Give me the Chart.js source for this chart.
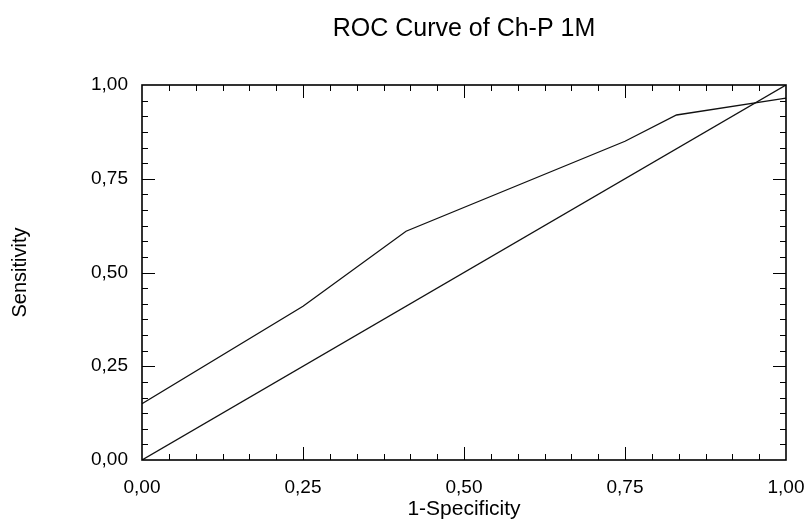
<!DOCTYPE html>
<html>
<head>
<meta charset="utf-8">
<script src="https://cdn.jsdelivr.net/npm/chart.js@4/dist/chart.umd.min.js"></script>
<style>
  html, body { margin: 0; padding: 0; background: #fff; }
  #wrap { width: 810px; height: 530px; }
</style>
</head>
<body>
<div id="wrap"><canvas id="roc" width="810" height="530"></canvas></div>
<script>
// values
const rocX = [0, 0.25, 0.41, 0.75, 0.83, 1.0];
const rocY = [0.15, 0.41, 0.61, 0.85, 0.92, 0.965];
const refX = [0, 1];
const refY = [0, 1];
const tickValues = [0, 0.25, 0.5, 0.75, 1];
const minorStep = 1 / 24;

const toPoints = (xs, ys) => xs.map((x, i) => ({ x: x, y: ys[i] }));
const fmt = v => v.toFixed(2).replace('.', ',');
const FONT = '"Liberation Sans", Arial, sans-serif';

// frame + inward tick marks on all four sides
const frameTicks = {
  id: 'frameTicks',
  afterLayout(chart) {
    // centre the title over the plot area, not the whole canvas
    const tb = chart.titleBlock;
    if (tb) {
      tb.left = chart.chartArea.left;
      tb.right = chart.chartArea.right;
      tb.width = tb.right - tb.left;
    }
  },
  afterDatasetsDraw(chart) {
    const { ctx, chartArea: a, scales: { x, y } } = chart;
    ctx.save();
    ctx.strokeStyle = '#000';
    ctx.lineWidth = 1;
    ctx.beginPath();
    for (let k = 1; k < 24; k++) {
      const v = k * minorStep;
      const len = k % 6 === 0 ? 13 : 6;
      const px = Math.round(x.getPixelForValue(v)) + 0.5;
      const py = Math.round(y.getPixelForValue(v)) + 0.5;
      ctx.moveTo(px, a.bottom); ctx.lineTo(px, a.bottom - len);
      ctx.moveTo(px, a.top); ctx.lineTo(px, a.top + len);
      ctx.moveTo(a.left, py); ctx.lineTo(a.left + len, py);
      ctx.moveTo(a.right, py); ctx.lineTo(a.right - len, py);
    }
    ctx.stroke();
    ctx.lineWidth = 1.6;
    ctx.strokeRect(a.left, a.top, a.right - a.left, a.bottom - a.top);
    ctx.restore();
  }
};

const data = {
  datasets: [
    {
      label: 'ROC',
      data: toPoints(rocX, rocY),
      showLine: true,
      borderColor: '#111',
      borderWidth: 1.3,
      pointRadius: 0,
      tension: 0
    },
    {
      label: 'Reference',
      data: toPoints(refX, refY),
      showLine: true,
      borderColor: '#111',
      borderWidth: 1.3,
      pointRadius: 0,
      tension: 0
    }
  ]
};

const config = {
  type: 'scatter',
  data: data,
  options: {
    responsive: false,
    animation: false,
    layout: { padding: { left: 0, right: 24, top: 0, bottom: 0 } },
    scales: {
      x: {
        type: 'linear',
        min: 0,
        max: 1,
        afterBuildTicks: s => { s.ticks = tickValues.map(v => ({ value: v })); },
        afterFit: s => { s.height = 70; s.paddingLeft = 0; s.paddingRight = 0; },
        grid: { display: false, drawTicks: false },
        border: { display: false },
        ticks: {
          padding: 16,
          color: '#000',
          font: { family: FONT, size: 19 },
          callback: v => fmt(v)
        },
        title: {
          display: true,
          text: '1-Specificity',
          color: '#000',
          font: { family: FONT, size: 21 },
          padding: { top: 0, bottom: 8 }
        }
      },
      y: {
        type: 'linear',
        min: 0,
        max: 1,
        afterBuildTicks: s => { s.ticks = tickValues.map(v => ({ value: v })); },
        afterFit: s => { s.width = 142; s.paddingTop = 0; s.paddingBottom = 0; },
        grid: { display: false, drawTicks: false },
        border: { display: false },
        ticks: {
          padding: 14,
          color: '#000',
          font: { family: FONT, size: 19 },
          callback: v => fmt(v)
        },
        title: {
          display: true,
          text: 'Sensitivity',
          color: '#000',
          font: { family: FONT, size: 20 },
          padding: { top: 8, bottom: 0 }
        }
      }
    },
    plugins: {
      legend: { display: false },
      tooltip: { enabled: false },
      title: {
        display: true,
        text: 'ROC Curve of Ch-P 1M',
        color: '#000',
        font: { family: FONT, size: 25, weight: 'normal' },
        padding: { top: 14, bottom: 41 }
      }
    }
  },
  plugins: [frameTicks]
};

const myChart = new Chart(document.getElementById('roc'), config);
</script>
</body>
</html>
